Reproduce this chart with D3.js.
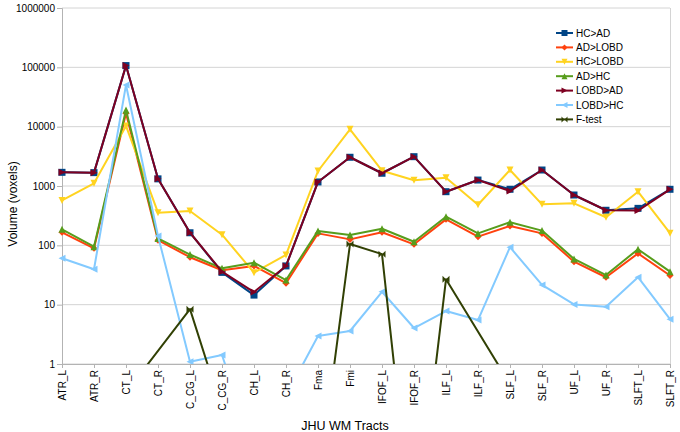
<!DOCTYPE html>
<html>
<head>
<meta charset="utf-8">
<script src="https://cdn.jsdelivr.net/npm/d3@7"></script>
<style>
  body { margin: 0; background: #fff; }
  svg { font-family: "Liberation Sans", Arial, sans-serif; }
</style>
</head>
<body>
<svg id="chart" width="680" height="432"></svg>
<script>
// Tract names along the x axis
const categories = ['ATR_L', 'ATR_R', 'CT_L', 'CT_R', 'C_CG_L', 'C_CG_R', 'CH_L', 'CH_R', 'Fma', 'Fmi',
    'IFOF_L', 'IFOF_R', 'ILF_L', 'ILF_R', 'SLF_L', 'SLF_R', 'UF_L', 'UF_R', 'SLFT_L', 'SLFT_R'];

// Volumes (voxels); values under 1 fall below the axis
const hcAd    = [1700, 1680, 107000, 1320, 163, 35, 14.5, 45, 1170, 3050, 1640, 3120, 802, 1260, 880, 1860, 705, 390, 420, 880];
const adLobd  = [166, 89, 16800, 122, 63, 38, 45, 23, 159, 126, 166, 104, 274, 140, 212, 159, 53, 29, 73, 31];
const hcLobd  = [570, 1110, 10300, 355, 379, 151, 34.6, 69, 1790, 9030, 1810, 1250, 1380, 484, 1860, 491, 511, 297, 802, 160];
const adHc    = [186, 95, 19100, 131, 70, 41, 51, 26, 175, 149, 190, 115, 304, 159, 245, 177, 59, 31.6, 86, 36];
const lobdAd  = [1700, 1680, 107000, 1320, 163, 36, 16.3, 45, 1170, 3050, 1640, 3120, 802, 1260, 820, 1860, 705, 390, 385, 880];
const lobdHc  = [60.5, 39.5, 50500, 144, 1.09, 1.42, 0.034, 0.29, 2.97, 3.6, 16.5, 4.04, 7.8, 5.5, 93, 21.5, 10.1, 9.2, 29, 5.7];
// null = missing cell, line continues over it
const fTest   = [0.2, 0.2, 0.33, null, 8.4, 0.17, 0.1, 0.1, 0.008, 105, 71, 0.0008, 26.8, null, 0.46, 0.1, 0.1, 0.1, 0.1, 0.1];

const yTicks = [1, 10, 100, 1000, 10000, 100000, 1000000];

const seriesNames = ['HC>AD', 'AD>LOBD', 'HC>LOBD', 'AD>HC', 'LOBD>AD', 'LOBD>HC', 'F-test'];
const seriesValues = [hcAd, adLobd, hcLobd, adHc, lobdAd, lobdHc, fTest];
const seriesColors = ['#004586', '#ff420e', '#ffd320', '#579d1c', '#7e0021', '#83caff', '#314004'];
const seriesSymbols = ['square', 'diamond', 'down', 'up', 'right', 'left', 'bowtie'];

const margin = { top: 8, right: 10, bottom: 68, left: 62 };
const width = 680, height = 432;

const svg = d3.select('#chart');

const xScale = d3.scalePoint()
    .domain(categories)
    .range([margin.left, width - margin.right])
    .padding(0);

const yScale = d3.scaleLog()
    .domain([1, 1000000])
    .range([height - margin.bottom, margin.top]);

// Marker paths centred on 0,0
function symbolPath(type, s) {
    switch (type) {
        case 'square':  return `M${-s},${-s}H${s}V${s}H${-s}Z`;
        case 'diamond': return `M0,${-s}L${s},0L0,${s}L${-s},0Z`;
        case 'down':    return `M${-s},${-s}H${s}L0,${s}Z`;
        case 'up':      return `M${-s},${s}H${s}L0,${-s}Z`;
        case 'right':   return `M${-s},${-s}V${s}L${s},0Z`;
        case 'left':    return `M${s},${-s}V${s}L${-s},0Z`;
        case 'bowtie':  return `M${-s},${-s}V${s}L${s},${-s}V${s}Z`;
    }
}

// Horizontal grid lines
svg.append('g')
    .selectAll('line')
    .data(yTicks)
    .join('line')
    .attr('x1', margin.left)
    .attr('x2', width - margin.right)
    .attr('y1', d => yScale(d))
    .attr('y2', d => yScale(d))
    .attr('stroke', '#d4d4d4')
    .attr('stroke-width', 1);

// Right border of plot area
svg.append('line')
    .attr('x1', width - margin.right + 0.5)
    .attr('x2', width - margin.right + 0.5)
    .attr('y1', margin.top)
    .attr('y2', height - margin.bottom)
    .attr('stroke', '#d4d4d4');

// Y axis
const yAxis = svg.append('g')
    .attr('transform', `translate(${margin.left},0)`)
    .call(d3.axisLeft(yScale).tickValues(yTicks).tickFormat(d3.format('d')).tickSize(5).tickPadding(2));
yAxis.select('.domain').attr('stroke', '#b3b3b3');
yAxis.selectAll('.tick line').attr('stroke', '#b3b3b3');
yAxis.selectAll('.tick text').attr('font-size', 10).attr('fill', '#000');

// X axis
const xAxis = svg.append('g')
    .attr('transform', `translate(0,${height - margin.bottom})`)
    .call(d3.axisBottom(xScale).tickSize(4).tickSizeOuter(0));
xAxis.select('.domain').attr('stroke', '#b3b3b3');
xAxis.selectAll('.tick line').attr('stroke', '#b3b3b3');
xAxis.selectAll('.tick text')
    .attr('font-size', 10)
    .attr('fill', '#000')
    .attr('text-anchor', 'end')
    .attr('transform', 'rotate(-90)')
    .attr('x', -6)
    .attr('y', 0)
    .attr('dy', '0.35em');

// Clip everything below the axis minimum
svg.append('clipPath')
    .attr('id', 'plot-clip')
    .append('rect')
    .attr('x', 0)
    .attr('y', 0)
    .attr('width', width)
    .attr('height', height - margin.bottom);

const plot = svg.append('g').attr('clip-path', 'url(#plot-clip)');

const line = d3.line()
    .x(d => xScale(d.cat))
    .y(d => yScale(d.value));

seriesNames.forEach((name, i) => {
    const points = categories
        .map((cat, j) => ({ cat, value: seriesValues[i][j] }))
        .filter(d => d.value !== null);

    plot.append('path')
        .datum(points)
        .attr('fill', 'none')
        .attr('stroke', seriesColors[i])
        .attr('stroke-width', 2)
        .attr('stroke-linejoin', 'round')
        .attr('d', line);

    plot.append('g')
        .selectAll('path')
        .data(points)
        .join('path')
        .attr('transform', d => `translate(${xScale(d.cat)},${yScale(d.value)})`)
        .attr('d', symbolPath(seriesSymbols[i], 3.5))
        .attr('fill', seriesColors[i]);
});

// Legend
const legend = svg.append('g').attr('transform', 'translate(556,33)');
seriesNames.forEach((name, i) => {
    const row = legend.append('g').attr('transform', `translate(0,${i * 14.4})`);
    row.append('line')
        .attr('x1', 0).attr('x2', 17)
        .attr('stroke', seriesColors[i])
        .attr('stroke-width', 2);
    row.append('path')
        .attr('transform', 'translate(8.5,0)')
        .attr('d', symbolPath(seriesSymbols[i], 3))
        .attr('fill', seriesColors[i]);
    row.append('text')
        .attr('x', 20)
        .attr('dy', '0.35em')
        .attr('font-size', 10)
        .text(name);
});

// Axis titles
svg.append('text')
    .attr('transform', 'translate(17,204) rotate(-90)')
    .attr('text-anchor', 'middle')
    .attr('font-size', 12)
    .text('Volume (voxels)');

svg.append('text')
    .attr('x', 345)
    .attr('y', 430)
    .attr('text-anchor', 'middle')
    .attr('font-size', 12.5)
    .text('JHU WM Tracts');
</script>
</body>
</html>
